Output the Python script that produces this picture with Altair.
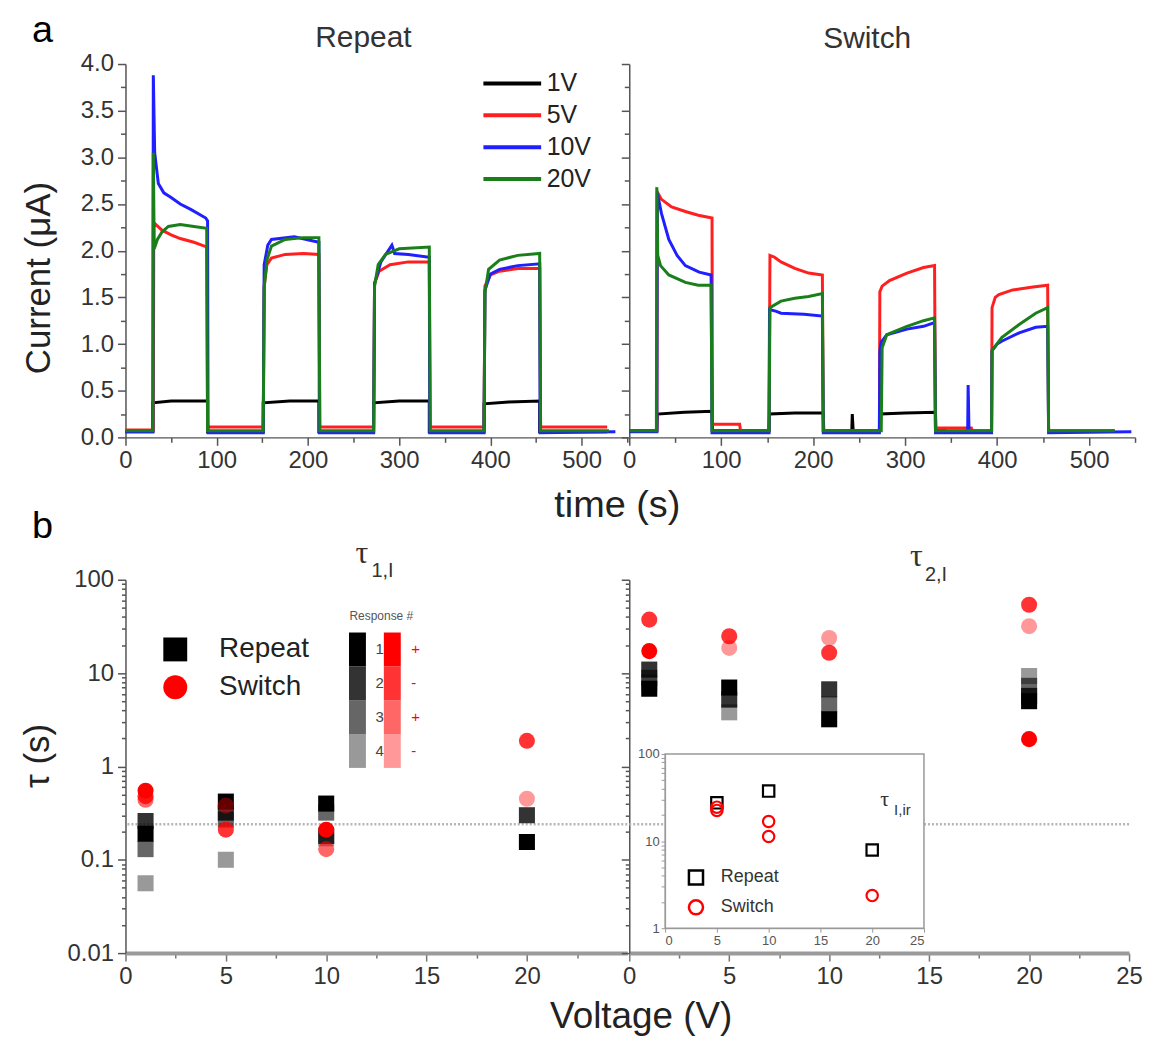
import altair as alt
import pandas as pd

FONT = "Liberation Sans"
SERIF = "Liberation Serif"

# ---------------- panel a : current traces ----------------
volt_labels = ["1V", "5V", "10V", "20V"]
volt_colors = ["#000000", "#ff1f1f", "#1f1fff", "#1a7f1a"]
t_domain = [0, 550]
i_domain = [0, 4]

rep_1V_t = [0, 30, 30, 50, 90, 90, 151, 151, 180, 212, 212, 272, 272, 300, 333, 333, 393, 393, 420, 454, 454, 528]
rep_1V_i = [0.06, 0.06, 0.37, 0.39, 0.39, 0.06, 0.06, 0.37, 0.39, 0.39, 0.06, 0.06, 0.37, 0.39, 0.39, 0.06, 0.06, 0.36, 0.38, 0.39, 0.06, 0.06]

rep_5V_t = [0, 30.5, 31, 40, 50, 60, 75, 89, 90, 151, 152, 155, 160, 175, 195, 212, 213, 272, 273, 278, 290, 310, 333, 334, 393, 394, 400, 410, 430, 454, 455, 528]
rep_5V_i = [0.08, 0.08, 2.30, 2.22, 2.17, 2.13, 2.09, 2.04, 0.11, 0.11, 1.62, 1.85, 1.92, 1.96, 1.97, 1.96, 0.11, 0.11, 1.65, 1.78, 1.85, 1.88, 1.88, 0.11, 0.11, 1.62, 1.74, 1.78, 1.81, 1.81, 0.11, 0.11]

rep_10V_t = [0, 30, 30.5, 32, 36, 42, 50, 60, 72, 88, 90, 90.5, 151, 152, 156, 160, 185, 212, 212.5, 272, 273, 280, 292, 295, 310, 333, 333.5, 393, 394, 400, 410, 430, 454, 454.5, 537]
rep_10V_i = [0.06, 0.06, 3.88, 3.05, 2.72, 2.62, 2.57, 2.50, 2.44, 2.35, 2.32, 0.05, 0.05, 1.85, 2.06, 2.12, 2.15, 2.09, 0.05, 0.05, 1.65, 1.88, 2.06, 1.97, 1.96, 1.93, 0.05, 0.05, 1.58, 1.75, 1.80, 1.84, 1.86, 0.05, 0.06]

rep_20V_t = [0, 30, 30.5, 31.5, 35, 40, 47, 60, 75, 89, 90, 151, 152, 155, 160, 175, 195, 212, 213, 272, 273, 277, 285, 300, 333, 334, 393, 394, 398, 410, 430, 454, 455, 530]
rep_20V_i = [0.07, 0.07, 3.05, 2.02, 2.12, 2.20, 2.26, 2.28, 2.26, 2.24, 0.07, 0.07, 1.60, 1.90, 2.05, 2.12, 2.14, 2.14, 0.07, 0.07, 1.62, 1.85, 1.96, 2.02, 2.04, 0.07, 0.07, 1.55, 1.80, 1.90, 1.95, 1.97, 0.07, 0.07]

sw_1V_t = [0, 30, 30.5, 60, 90, 90.5, 152, 152.5, 180, 211, 211.5, 242, 242.5, 243.5, 272, 272.5, 300, 333, 333.5, 345]
sw_1V_i = [0.07, 0.07, 0.25, 0.27, 0.28, 0.07, 0.07, 0.25, 0.26, 0.26, 0.07, 0.07, 0.25, 0.07, 0.07, 0.25, 0.26, 0.27, 0.07, 0.07]

sw_5V_t = [0, 30, 30.5, 35, 46, 61, 75, 90, 90.5, 94, 120, 121, 152, 153, 158, 165, 180, 195, 210, 211, 272, 272.5, 275, 283, 302, 320, 332, 333, 339, 372, 373, 394, 394.5, 398, 402, 417, 439, 455, 456, 528]
sw_5V_i = [0.07, 0.07, 2.63, 2.55, 2.47, 2.42, 2.38, 2.35, 0.14, 0.14, 0.14, 0.07, 0.07, 1.95, 1.93, 1.88, 1.81, 1.76, 1.74, 0.07, 0.07, 1.56, 1.62, 1.68, 1.76, 1.82, 1.84, 0.10, 0.10, 0.10, 0.07, 0.07, 1.39, 1.50, 1.53, 1.58, 1.61, 1.63, 0.07, 0.07]

sw_10V_t = [0, 30, 30.5, 35, 43, 52, 61, 76, 89, 90, 152, 152.5, 160, 165, 190, 210, 211, 272, 272.5, 274, 280, 302, 320, 332, 333, 368, 368.5, 369.5, 394, 394.5, 400, 405, 424, 442, 455, 456, 546]
sw_10V_i = [0.06, 0.06, 2.62, 2.40, 2.12, 1.95, 1.84, 1.77, 1.74, 0.05, 0.05, 1.37, 1.35, 1.33, 1.32, 1.30, 0.05, 0.05, 0.93, 1.02, 1.10, 1.16, 1.19, 1.23, 0.05, 0.05, 0.56, 0.05, 0.05, 0.93, 1.00, 1.03, 1.12, 1.18, 1.19, 0.05, 0.06]

sw_20V_t = [0, 29.5, 30, 31, 34, 43, 61, 75, 89, 90, 152, 153, 165, 180, 195, 210, 211, 274, 275, 280, 290, 302, 320, 332, 333, 394, 394.5, 405, 424, 442, 455, 456, 528]
sw_20V_i = [0.07, 0.07, 2.68, 1.95, 1.84, 1.74, 1.66, 1.63, 1.63, 0.07, 0.07, 1.39, 1.46, 1.49, 1.51, 1.54, 0.07, 0.07, 0.96, 1.10, 1.14, 1.19, 1.25, 1.28, 0.07, 0.07, 0.93, 1.07, 1.21, 1.33, 1.39, 0.07, 0.07]

# ---------------- panel b : time constants ----------------
series_names = ["Repeat", "Switch"]
series_colors = ["#000000", "#ff0000"]
series_shapes = ["square", "circle"]
resp_ids = [1, 2, 3, 4]
resp_alpha = [1.0, 0.8, 0.6, 0.4]
resp_signs = ["+", "-", "+", "-"]
v_domain = [0, 25]
tau_domain = [0.01, 100]
dotted_ref = [0.24]

tau1_rep_V = [1, 1, 1, 1, 5, 5, 5, 5, 10, 10, 10, 10, 20, 20]
tau1_rep_val = [0.19, 0.26, 0.13, 0.056, 0.42, 0.32, 0.27, 0.10, 0.40, 0.18, 0.32, 0.17, 0.155, 0.30]
tau1_rep_resp = [1, 2, 3, 4, 1, 2, 3, 4, 1, 2, 3, 4, 1, 2]

tau1_sw_V = [1, 1, 1, 5, 5, 10, 10, 20, 20]
tau1_sw_val = [0.55, 0.48, 0.44, 0.21, 0.38, 0.21, 0.13, 1.88, 0.45]
tau1_sw_resp = [1, 2, 3, 2, 4, 1, 3, 2, 4]

tau2_rep_V = [1, 1, 1, 1, 5, 5, 5, 10, 10, 10, 20, 20, 20, 20]
tau2_rep_val = [6.8, 10.9, 8.9, 7.9, 7.0, 5.2, 3.8, 3.2, 6.7, 4.6, 5.0, 5.7, 7.3, 9.3]
tau2_rep_resp = [1, 2, 3, 4, 1, 2, 4, 1, 2, 3, 1, 2, 3, 4]

tau2_sw_V = [1, 1, 5, 5, 10, 10, 20, 20, 20]
tau2_sw_val = [17.2, 37.4, 24.8, 18.6, 16.5, 23.8, 54.0, 1.96, 31.8]
tau2_sw_resp = [1, 2, 2, 4, 2, 4, 2, 1, 4]

# inset: tau_I,ir
ins_v_domain = [0, 25]
ins_tau_domain = [1, 100]
ins_rep_V = [5, 10, 20]
ins_rep_val = [27.5, 37.5, 7.9]
ins_sw_V = [5, 5, 10, 10, 20]
ins_sw_val = [24.5, 22.5, 16.8, 11.3, 2.37]

# ---------------- tables ----------------
def curves(pairs):
    rows = []
    for lab, ts, cs in pairs:
        for k, (t, c) in enumerate(zip(ts, cs)):
            rows.append({"V": lab, "t": t, "I": c, "idx": k})
    return pd.DataFrame(rows)

df_rep = curves([("1V", rep_1V_t, rep_1V_i), ("5V", rep_5V_t, rep_5V_i),
                 ("10V", rep_10V_t, rep_10V_i), ("20V", rep_20V_t, rep_20V_i)])
df_sw = curves([("1V", sw_1V_t, sw_1V_i), ("5V", sw_5V_t, sw_5V_i),
                ("10V", sw_10V_t, sw_10V_i), ("20V", sw_20V_t, sw_20V_i)])

def taus(series, vs, vals, resp):
    return pd.DataFrame({"series": series, "V": vs, "tau": vals, "resp": resp})

df_t1_rep = taus("Repeat", tau1_rep_V, tau1_rep_val, tau1_rep_resp)
df_t1_sw = taus("Switch", tau1_sw_V, tau1_sw_val, tau1_sw_resp)
df_t2_rep = taus("Repeat", tau2_rep_V, tau2_rep_val, tau2_rep_resp)
df_t2_sw = taus("Switch", tau2_sw_V, tau2_sw_val, tau2_sw_resp)
df_ins = pd.concat([
    pd.DataFrame({"series": "Repeat", "V": ins_rep_V, "tau": ins_rep_val}),
    pd.DataFrame({"series": "Switch", "V": ins_sw_V, "tau": ins_sw_val}),
])
df_ref = pd.DataFrame({"tau": dotted_ref})
df_frame = pd.DataFrame({"x0": [ins_v_domain[0]], "x1": [ins_v_domain[1]],
                         "y0": [ins_tau_domain[0]], "y1": [ins_tau_domain[1]]})

# ---------------- helpers ----------------
def text(s, x, y, size, color="#222", font=FONT, align="left", baseline="alphabetic", angle=None):
    kw = dict(align=align, baseline=baseline, fontSize=size, font=font, color=color)
    if angle is not None:
        kw["angle"] = angle
    return alt.Chart(pd.DataFrame({"txt": [s]})).mark_text(**kw).encode(
        text="txt:N", x=alt.value(x), y=alt.value(y))

AX = dict(grid=False, title=None, labelFont=FONT, labelColor="#333", domainColor="#555",
          tickColor="#555", domainWidth=1.5, tickWidth=1.5, labelOverlap=False, labelFlush=False)

# panel a axes
tick_a_x = list(range(0, 551, 50))
tick_a_y = [k * 0.25 for k in range(17)]
ax_a_x = alt.Axis(values=tick_a_x, labelFontSize=24, labelPadding=3,
                  labelExpr="datum.value % 100 == 0 ? datum.label : ''",
                  tickSize={"condition": {"test": "datum.value % 100 == 0", "value": 8}, "value": 5}, **AX)
ax_a_y_left = alt.Axis(values=tick_a_y, labelFontSize=24, labelPadding=4,
                       labelExpr="datum.value % 0.5 == 0 ? format(datum.value, '.1f') : ''",
                       tickSize={"condition": {"test": "datum.value % 0.5 == 0", "value": 8}, "value": 5}, **AX)
ax_a_y_right = alt.Axis(values=tick_a_y, labels=False,
                        tickSize={"condition": {"test": "datum.value % 0.5 == 0", "value": 8}, "value": 5}, **AX)

LINE_SYM = "M-2,0H2"
leg_v = alt.Legend(title=None, orient="none", legendX=372, legendY=3, symbolType=LINE_SYM,
                   symbolSize=841, symbolStrokeWidth=4, labelFontSize=25, labelFont=FONT,
                   labelColor="#222", labelOffset=18, rowPadding=2, padding=0)

def panel_a(df, left):
    layers = []
    for lab in volt_labels:
        layers.append(
            alt.Chart(df).transform_filter(alt.datum.V == lab).mark_line(strokeWidth=3).encode(
                x=alt.X("t:Q", scale=alt.Scale(domain=t_domain, nice=False, zero=False), axis=ax_a_x),
                y=alt.Y("I:Q", scale=alt.Scale(domain=i_domain, nice=False),
                        axis=ax_a_y_left if left else ax_a_y_right),
                color=alt.Color("V:N", scale=alt.Scale(domain=volt_labels, range=volt_colors),
                                legend=leg_v if left else None),
                order=alt.Order("idx:Q"),
            ))
    return layers

a_left = alt.layer(
    *panel_a(df_rep, True),
    text("a", -94, -22, 38, color="#000"),
    text("Repeat", 239, -17, 30, color="#333", align="center"),
    text("time (s)", 494, 455, 38, color="#222", align="center"),
    text("Current (μA)", -76, 215, 35, color="#222", align="center", angle=270),
).properties(width=504, height=375)

a_right = alt.layer(
    *panel_a(df_sw, False),
    text("Switch", 239, -16, 30, color="#333", align="center"),
).properties(width=508, height=375)

# panel b axes
tick_b_y = [round(m * 10 ** e, 6) for e in range(-2, 2) for m in range(1, 10)] + [100]
major_test = "datum.value == 100 || datum.value == 10 || datum.value == 1 || datum.value == 0.1 || datum.value == 0.01"
lab_b_y = ("datum.value == 100 ? '100' : datum.value == 10 ? '10' : datum.value == 1 ? '1' : "
           "datum.value == 0.1 ? '0.1' : datum.value == 0.01 ? '0.01' : ''")
ax_b_y_left = alt.Axis(values=tick_b_y, labelFontSize=24, labelPadding=4, labelExpr=lab_b_y,
                       tickSize={"condition": {"test": major_test, "value": 8}, "value": 4}, **AX)
ax_b_y_right = alt.Axis(orient="left", values=tick_b_y, labels=False,
                        tickSize={"condition": {"test": major_test, "value": 8}, "value": 4}, **AX)
AXBX = dict(AX)
AXBX.update(domainColor="#9a9a9a", domainWidth=4, tickColor="#777")
ax_b_x_left = alt.Axis(values=[k * 2.5 for k in range(10)], labelFontSize=24, labelPadding=4,
                       labelExpr="datum.value % 5 == 0 ? datum.label : ''",
                       tickSize={"condition": {"test": "datum.value % 5 == 0", "value": 8}, "value": 5}, **AXBX)
ax_b_x_right = alt.Axis(orient="bottom", values=[k * 2.5 for k in range(11)], labelFontSize=24, labelPadding=4,
                        labelExpr="datum.value % 5 == 0 ? datum.label : ''",
                        tickSize={"condition": {"test": "datum.value % 5 == 0", "value": 8}, "value": 5}, **AXBX)

def xb(axis):
    return alt.X("V:Q", scale=alt.Scale(domain=v_domain, nice=False, zero=False), axis=axis)

def yb(axis):
    return alt.Y("tau:Q", scale=alt.Scale(type="log", domain=tau_domain, nice=False), axis=axis)

leg_series = alt.Legend(title=None, orient="none", legendX=36, legendY=56, symbolSize=576,
                        labelFontSize=28, labelFont=FONT, labelColor="#222", labelOffset=30,
                        rowPadding=10, padding=0, symbolOpacity=1, symbolStrokeWidth=0)
BAR = "M-0.5,-1H0.5V1H-0.5Z"
leg_black = alt.Legend(title=None, orient="none", legendX=216, legendY=53, symbolType=BAR,
                       symbolSize=1156, symbolFillColor="#000000", symbolStrokeWidth=0,
                       labelFontSize=15, labelFont=FONT, labelColor="#444", labelOffset=1,
                       rowPadding=0, padding=0)
leg_red = alt.Legend(title=None, orient="none", legendX=251, legendY=53, symbolType=BAR,
                     symbolSize=1156, symbolFillColor="#ff0000", symbolStrokeWidth=0,
                     labelFontSize=15, labelFont=FONT, labelColor="#ff0000", labelOffset=2,
                     rowPadding=0, padding=0,
                     labelExpr="datum.value % 2 == 1 ? '" + resp_signs[0] + "' : '" + resp_signs[1] + "'")

def color_enc(legend):
    return alt.Color("series:N", scale=alt.Scale(domain=series_names, range=series_colors), legend=legend)

def shape_enc(legend):
    return alt.Shape("series:N", scale=alt.Scale(domain=series_names, range=series_shapes), legend=legend)

def opac_enc(legend):
    return alt.Opacity("resp:O", scale=alt.Scale(type="ordinal", domain=resp_ids, range=resp_alpha), legend=legend)

def rule(axis_y):
    return alt.Chart(df_ref).mark_rule(color="#b5b5b5", strokeWidth=2.5, strokeDash=[2, 2]).encode(
        y=yb(axis_y))

def pts(df, axx, axy, leg_s, leg_o):
    return alt.Chart(df).mark_point(filled=True, size=260, strokeWidth=0).encode(
        x=xb(axx), y=yb(axy), color=color_enc(leg_s), shape=shape_enc(leg_s), opacity=opac_enc(leg_o))

b_left = alt.layer(
    rule(ax_b_y_left),
    pts(df_t1_rep, ax_b_x_left, ax_b_y_left, leg_series, leg_black),
    pts(df_t1_sw, ax_b_x_left, ax_b_y_left, leg_series, leg_red),
    text("b", -94, -42, 38, color="#000"),
    text("τ", 231, -17, 32, color="#333", font=SERIF),
    text("1,I", 247, -3, 20, color="#333"),
    text("Response #", 257, 40, 12, color="#555", align="center"),
    text("τ (s)", -77, 177, 35, color="#222", align="center", angle=270),
    text("Voltage (V)", 518, 450, 37, color="#222", align="center"),
).resolve_scale(opacity="independent").properties(width=504, height=375)

# inset scales: sub-rectangle of the right panel
ins_x_scale = alt.Scale(domain=ins_v_domain, range=[36, 296], nice=False, zero=False)
ins_y_scale = alt.Scale(type="log", domain=ins_tau_domain, range=[350, 175], nice=False)
tick_ins_y = [m * 10 ** e for e in range(0, 2) for m in range(1, 10)] + [100]
ax_ins_x = alt.Axis(orient="bottom", offset=-25, values=[0, 5, 10, 15, 20, 25], labelFontSize=13,
                    tickSize=4, labelPadding=2, grid=False, title=None, labelFont=FONT, zindex=2,
                    labelColor="#555", domainColor="#999", tickColor="#999")
ax_ins_y = alt.Axis(orient="left", offset=-36, values=tick_ins_y, labelFontSize=13, zindex=2,
                    labelExpr="datum.value == 100 ? '100' : datum.value == 10 ? '10' : datum.value == 1 ? '1' : ''",
                    tickSize=4, labelPadding=2, grid=False, title=None, labelFont=FONT,
                    labelColor="#555", domainColor="#999", tickColor="#999")
leg_ins = alt.Legend(title=None, orient="none", legendX=58, legendY=290, symbolSize=200,
                     symbolStrokeWidth=2.5, labelFontSize=18, labelFont=FONT, labelColor="#333",
                     labelOffset=16, rowPadding=4, padding=0, symbolOpacity=1)

ins_frame = alt.Chart(df_frame).mark_rect(fill="white", stroke="#999", strokeWidth=1.5).encode(
    x=alt.X("x0:Q", scale=ins_x_scale, axis=None), x2="x1:Q",
    y=alt.Y("y0:Q", scale=ins_y_scale, axis=None), y2="y1:Q")
ins_pts = alt.Chart(df_ins).mark_point(filled=False, size=130, strokeWidth=2.2, opacity=1).encode(
    x=alt.X("V:Q", scale=ins_x_scale, axis=ax_ins_x),
    y=alt.Y("tau:Q", scale=ins_y_scale, axis=ax_ins_y),
    color=color_enc(leg_ins), shape=shape_enc(leg_ins))

b_right = alt.layer(
    rule(ax_b_y_right),
    pts(df_t2_rep, ax_b_x_right, None, None, None),
    pts(df_t2_sw, None, None, None, None),
    text("τ", 282, -14, 32, color="#333", font=SERIF),
    text("2,I", 297, 1, 20, color="#333"),
    ins_frame,
    ins_pts,
    text("τ", 252, 227, 22, color="#333", font=SERIF),
    text("I,ir", 266, 236, 15, color="#333"),
).resolve_scale(
    x="independent", y="independent", color="independent", shape="independent", opacity="independent"
).properties(width=502, height=375)

chart = alt.concat(
    a_left, a_right, b_left, b_right, columns=2, bounds="flush",
    spacing={"row": 143, "column": 2},
).resolve_scale(
    color="independent", shape="independent", opacity="independent"
).properties(
    padding={"left": 13, "top": 2, "right": 0, "bottom": 0}, background="white"
).configure_view(stroke=None)

chart.save("out.html", embed_options={"renderer": "svg", "actions": False})
